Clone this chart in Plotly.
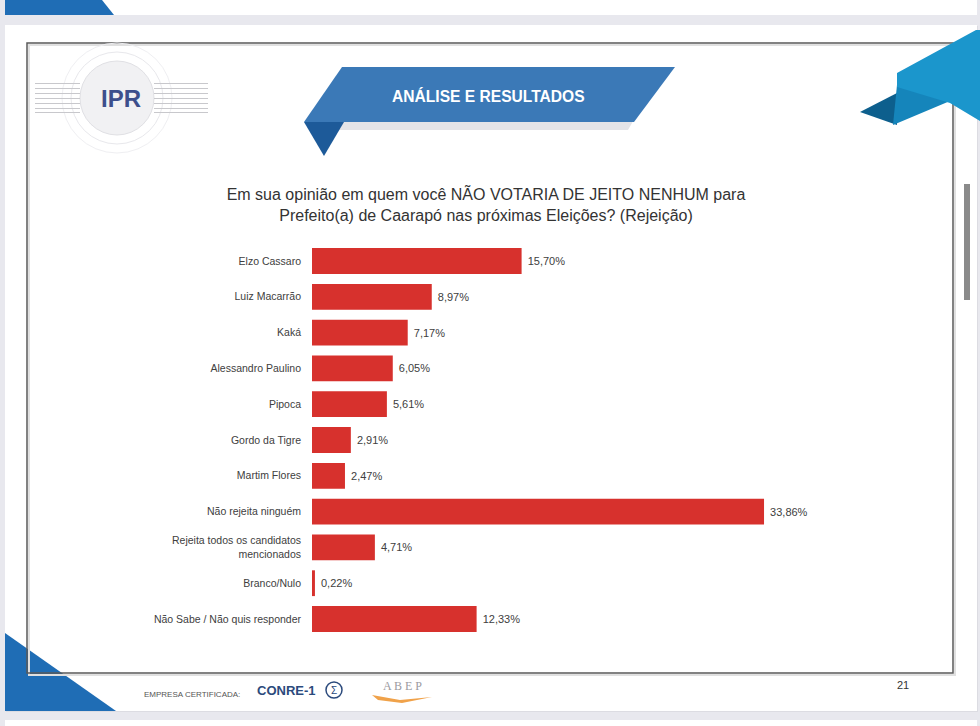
import plotly.graph_objects as go

W, H = 980, 726

categories = ['Elzo Cassaro', 'Luiz Macarrão', 'Kaká', 'Alessandro Paulino', 'Pipoca',
              'Gordo da Tigre', 'Martim Flores', 'Não rejeita ninguém',
              'Rejeita todos os candidatos<br>mencionados', 'Branco/Nulo',
              'Não Sabe / Não quis responder']
values = [15.70, 8.97, 7.17, 6.05, 5.61, 2.91, 2.47, 33.86, 4.71, 0.22, 12.33]
labels = ['\u00a0' + f'{v:.2f}%'.replace('.', ',') for v in values]

title_text = ('Em sua opinião em quem você NÃO VOTARIA DE JEITO NENHUM para<br>'
              'Prefeito(a) de Caarapó nas próximas Eleições? (Rejeição)')


def px(x, y):
    # pixel -> paper coords (margins are zero)
    return x / W, 1 - y / H


def poly(pts, color, line=None):
    d = 'M ' + ' L '.join('%.5f,%.5f' % px(x, y) for x, y in pts) + ' Z'
    return dict(type='path', xref='paper', yref='paper', path=d, fillcolor=color,
                line=dict(width=0) if line is None else line, layer='below')


def rect(x0, y0, x1, y1, color, line=None, layer='below'):
    a, b = px(x0, y0)
    c, d = px(x1, y1)
    return dict(type='rect', xref='paper', yref='paper', x0=a, y0=d, x1=c, y1=b,
                fillcolor=color, line=dict(width=0) if line is None else line, layer=layer)


def circle(cx, cy, r, color, line):
    a, b = px(cx - r, cy - r)
    c, d = px(cx + r, cy + r)
    return dict(type='circle', xref='paper', yref='paper', x0=a, y0=d, x1=c, y1=b,
                fillcolor=color, line=line, layer='below')


def note(text, x, y, size, color, family='Liberation Sans'):
    a, b = px(x, y)
    return dict(text=text, x=a, y=b, xref='paper', yref='paper', xanchor='center',
                yanchor='middle', showarrow=False,
                font=dict(size=size, color=color, family=family))


fig = go.Figure(go.Bar(
    x=values, y=categories, orientation='h',
    marker=dict(color='#d7312d', line=dict(width=0)),
    text=labels, textposition='outside', cliponaxis=False,
    textfont=dict(size=11, color='#404040', family='Liberation Sans'),
    width=0.72,
))

shapes = []
# previous slide strip at the top
shapes.append(rect(5, 0, 977, 15, 'white'))
shapes.append(poly([(5, 0), (102, 0), (114, 15), (5, 15)], '#1f6db5'))
# the slide
shapes.append(rect(6, 26, 978, 712, '#dcdce2'))
shapes.append(rect(5, 25, 977, 711, 'white'))
shapes.append(rect(5, 720, 977, 726, 'white'))
# bottom-left triangle
shapes.append(poly([(5, 633), (5, 711), (116, 711)], '#1f6db5'))
# frame
shapes.append(rect(29, 45, 955, 675, 'rgba(0,0,0,0)', dict(color='#e0e0e0', width=2)))
shapes.append(rect(27, 43, 953, 673, 'rgba(0,0,0,0)', dict(color='#5a5a5a', width=1.5)))
# top-right ribbon
shapes.append(poly([(860, 112), (897, 93), (897, 125)], '#0d5f8d'))
shapes.append(poly([(897, 85), (950, 101), (893, 125)], '#1585bb'))
shapes.append(poly([(897, 73), (976, 30), (980, 30), (980, 121), (950, 103), (897, 87)], '#1b96cc'))
# banner
shapes.append(poly([(352, 74), (660, 74), (628, 130), (312, 130)], '#e4e4e8'))
shapes.append(poly([(304, 122), (344, 122), (324, 156)], '#1d5a99'))
shapes.append(poly([(342, 67), (675, 67), (634, 122), (304, 122)], '#3b79b7'))
# IPR logo
shapes.append(circle(117, 98, 55, 'rgba(0,0,0,0)', dict(color='#efeff2', width=1)))
shapes.append(circle(117, 98, 46, 'rgba(0,0,0,0)', dict(color='#e8e8ec', width=1)))
shapes.append(circle(117, 98, 37, '#f1f1f3', dict(color='#e0e0e4', width=1)))
for dy in [-14, -9, -4, 1, 6, 11, 15]:
    shapes.append(poly([(35, 97 + dy), (80, 97 + dy), (80, 98 + dy), (35, 98 + dy)], '#c8c8cc'))
    shapes.append(poly([(154, 97 + dy), (208, 97 + dy), (208, 98 + dy), (154, 98 + dy)], '#c8c8cc'))
# CONRE-1 seal
shapes.append(circle(334, 690, 8, 'white', dict(color='#2b4a7c', width=1.5)))
# ABEP swoosh
shapes.append(poly([(372, 695), (400, 700), (432, 697), (402, 703), (378, 700)], '#f0a24a'))
# scrollbar
shapes.append(rect(964, 184, 970, 300, '#8a8a8a'))

fig.update_layout(
    width=W, height=H,
    margin=dict(l=0, r=0, t=0, b=0),
    paper_bgcolor='#e8e8ee', plot_bgcolor='rgba(0,0,0,0)',
    showlegend=False,
    font=dict(family='Liberation Sans', color='#404040'),
    title=dict(text=title_text, x=486 / W, xanchor='center', y=1 - 200 / H,
               yanchor='middle', yref='container',
               font=dict(size=16, color='#333333', family='Liberation Sans')),
    xaxis=dict(domain=[312 / W, 846 / W], range=[0, 40], visible=False, fixedrange=True),
    yaxis=dict(domain=[1 - 636.9 / H, 1 - 243.1 / H], type='category',
               categoryorder='array', categoryarray=categories,
               range=[10.5, -0.5], showgrid=False, zeroline=False, showline=False,
               ticks='', ticklabelstandoff=10, fixedrange=True,
               tickfont=dict(size=10.5, color='#404040', family='Liberation Sans')),
    shapes=shapes,
    annotations=[
        note('<b>ANÁLISE E RESULTADOS</b>', 488, 96, 15.6, 'white'),
        note('<b>IPR</b>', 121, 98, 24, '#3d4f8c'),
        note('EMPRESA CERTIFICADA:', 192, 694, 8, '#555555'),
        note('<b>CONRE-1</b>', 286, 690, 13, '#2b4a7c'),
        note('Σ', 334, 690, 10, '#2b4a7c'),
        note('A B E P', 402, 686, 12, '#9a9aa0', 'Liberation Serif'),
        note('21', 903, 685, 11, '#333333'),
    ],
)

fig.write_html('out.html', config={'displayModeBar': False},
               post_script="document.body.style.margin='0';")
